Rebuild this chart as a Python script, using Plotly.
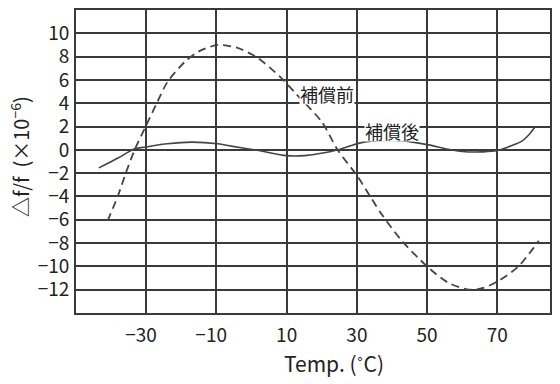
import plotly.graph_objects as go

# --- data ---
temp_before = [-41, -38, -35.7, -33.3, -30, -27, -24, -19, -15, -9.5, -4, 0, 2, 8, 13, 20, 24.5,
               30, 34, 37, 42.5, 50, 56, 62, 66, 70, 76, 81.8]
dev_before = [-6.1, -3.9, -1.9, 0.0, 2.1, 4.0, 5.8, 7.55, 8.45, 9.0, 8.75, 8.2, 7.85, 6.3, 4.7, 2.4, 0.0,
              -2.2, -4.1, -5.5, -7.7, -10.0, -11.4, -12.0, -11.85, -11.3, -10.0, -7.8]

temp_after = [-43.5, -38, -33.3, -30, -24, -17, -9.6, -5.8, 2, 10, 15, 19, 25, 31, 38, 44,
              50, 56, 60, 66, 70, 74, 77, 79, 80.7]
dev_after = [-1.55, -0.7, 0.09, 0.25, 0.52, 0.66, 0.52, 0.32, -0.06, -0.5, -0.5, -0.34, 0.03,
             0.6, 0.8, 0.75, 0.45, 0.05, -0.14, -0.17, -0.06, 0.35, 0.75, 1.3, 1.96]

x_ticks = [-30, -10, 10, 30, 50, 70]
x_ticktext = ["−30\u2007", "−10\u2007", "10", "30", "50", "70"]
y_ticks = [-12, -10, -8, -6, -4, -2, 0, 2, 4, 6, 8, 10]
y_ticktext = ["−12", "−10", "−8", "−6", "−4", "−2", "0", "2", "4", "6", "8", "10"]

label_before = "補償前"
label_after = "補償後"
x_title = "Temp. (˚C)"
y_title = "△f/f  (×10<sup>−6</sup>)"

FONT = "Noto Sans CJK JP"
INK = "#222222"
GRID = "#3a3a3a"

L, R, T, B = 76, 10, 10, 71
PW, PH = 560 - L - R, 384 - T - B

fig = go.Figure()
fig.add_trace(go.Scatter(x=temp_before, y=dev_before, mode="lines",
                         line=dict(color="#444444", width=1.8, dash="8px,5px", shape="spline",
                                   smoothing=0.8),
                         showlegend=False, hoverinfo="skip"))
fig.add_trace(go.Scatter(x=temp_after, y=dev_after, mode="lines",
                         line=dict(color="#444444", width=1.6, shape="spline", smoothing=0.8),
                         showlegend=False, hoverinfo="skip"))

fig.add_annotation(x=21.6, y=4.85, text=label_before, showarrow=False, height=21,
                   font=dict(family=FONT, size=18, color=INK), bgcolor="white", borderpad=0)
fig.add_annotation(x=40.1, y=1.64, text=label_after, showarrow=False, height=21,
                   font=dict(family=FONT, size=18, color=INK), bgcolor="white", borderpad=0)

fig.add_annotation(xref="paper", yref="paper", x=(334 - L) / PW, y=-(363 - (T + PH)) / PH,
                   text=x_title, showarrow=False, yanchor="middle", xanchor="center",
                   font=dict(family=FONT, size=21, color=INK))
fig.add_annotation(xref="paper", yref="paper", x=(20 - L) / PW, y=(T + PH - 157) / PH,
                   text=y_title, showarrow=False, textangle=-90,
                   xanchor="center", yanchor="middle",
                   font=dict(family=FONT, size=20, color=INK))

fig.update_layout(
    width=560, height=384,
    margin=dict(l=L, r=R, t=T, b=B, autoexpand=False),
    paper_bgcolor="white", plot_bgcolor="white",
    font=dict(family=FONT, size=19, color=INK),
    xaxis=dict(range=[-50, 85], tickvals=x_ticks, ticktext=x_ticktext,
               showgrid=True, gridcolor=GRID, gridwidth=1.5,
               showline=True, linecolor=GRID, linewidth=1.8, mirror=True,
               zeroline=False, ticks="", ticklabelstandoff=4, automargin=False,
               tickfont=dict(family=FONT, size=19, color=INK)),
    yaxis=dict(range=[-14, 12], tickvals=y_ticks, ticktext=y_ticktext,
               showgrid=True, gridcolor=GRID, gridwidth=1.5,
               showline=True, linecolor=GRID, linewidth=1.8, mirror=True,
               zeroline=False, ticks="", ticklabelstandoff=1, automargin=False,
               tickfont=dict(family=FONT, size=19, color=INK)),
)

fig.write_html("out.html", config={"displayModeBar": False},
               post_script="document.body.style.margin='0px';document.body.style.overflow='hidden';")
